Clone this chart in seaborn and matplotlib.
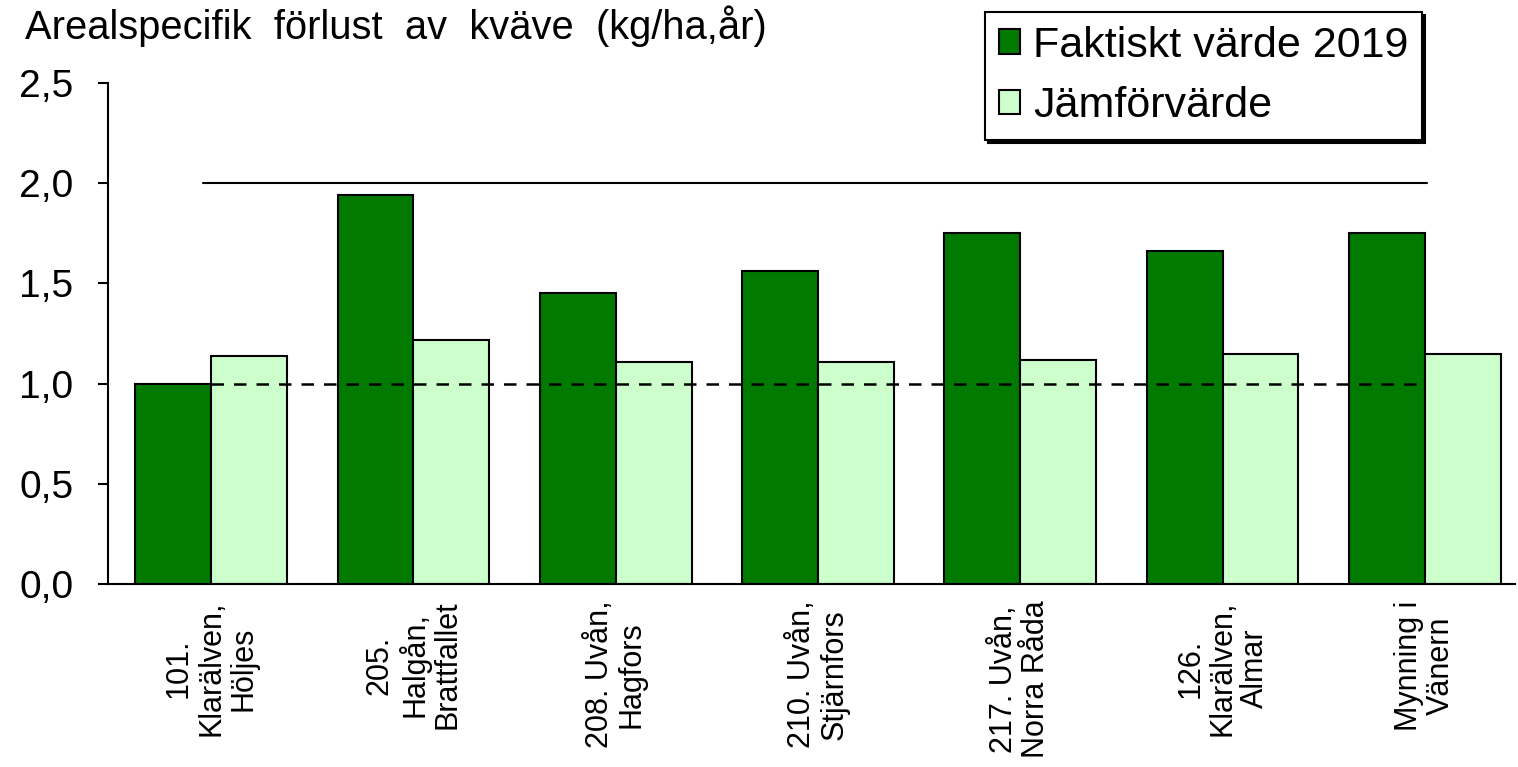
import pandas as pd
import numpy as np
import matplotlib
matplotlib.use("Agg")
import matplotlib.pyplot as plt
from matplotlib.ticker import FuncFormatter, MultipleLocator
import seaborn as sns

stations = ["101.\nKlarälven,\nHöljes", "205.\nHalgån,\nBrattfallet", "208. Uvån,\nHagfors",
            "210. Uvån,\nStjärnfors", "217. Uvån,\nNorra Råda", "126.\nKlarälven,\nAlmar",
            "Mynning i\nVänern"]
faktiskt = [1.00, 1.94, 1.45, 1.56, 1.75, 1.66, 1.75]
jamfor = [1.14, 1.22, 1.11, 1.11, 1.12, 1.15, 1.15]
series = ["Faktiskt värde 2019", "Jämförvärde"]
ref_levels = [2.0, 1.0]

df = pd.DataFrame({
    "station": stations * 2,
    "serie": [series[0]] * len(stations) + [series[1]] * len(stations),
    "value": faktiskt + jamfor,
})

sns.set_style("ticks")
plt.rcParams['font.family'] = ['Liberation Sans', 'DejaVu Sans']
plt.rcParams['text.color'] = 'black'

fig = plt.figure(figsize=(15.18, 7.67), dpi=100)
ax = fig.add_axes([0.0711, 0.2386, 0.9269, 0.6532])

sns.barplot(data=df, x="station", y="value", hue="serie", palette=["#007a00", "#ccffcc"],
            saturation=1, edgecolor="black", linewidth=1.5, width=0.75, ax=ax, zorder=2)

first, last = 0, len(stations) - 1
ax.plot([first - 0.04, last + 0.01], [ref_levels[0]] * 2, color="black", lw=1.5, zorder=3)
ax.plot([first, last], [ref_levels[1]] * 2, color="black", lw=1.8, ls=(0, (5, 4)), zorder=3)

ax.set_xlim(-0.51, 6.445)
ax.set_ylim(0, 2.5)
ax.yaxis.set_major_locator(MultipleLocator(0.5))
ax.yaxis.set_major_formatter(FuncFormatter(lambda v, p: f"{v:.1f}".replace(".", ",")))
ax.set_xlabel("")
ax.set_ylabel("")
sns.despine(ax=ax)
for s in ["left", "bottom"]:
    ax.spines[s].set_linewidth(1.5)
    ax.spines[s].set_color("black")
ax.tick_params(axis="y", length=7, width=1.5, pad=18, labelsize=28, colors="black")
ax.tick_params(axis="x", length=0, pad=12, labelsize=22, colors="black")
for lab in ax.get_xticklabels():
    lab.set_rotation(90)
    lab.set_va("top")
    lab.set_ha("center")
    lab.set_linespacing(1.1)

ax.get_legend().remove()
handles, labels = ax.get_legend_handles_labels()
leg = fig.legend(handles, labels, loc="upper left", bbox_to_anchor=(985 / 1518, 1 - 12 / 767),
                 fontsize=31, frameon=True, fancybox=False, shadow={"color": "black", "alpha": 1},
                 edgecolor="black", framealpha=1, handlelength=0.5, handleheight=0.5,
                 handletextpad=0.3, labelspacing=0.48, borderpad=0.32, borderaxespad=0)
leg.get_frame().set_linewidth(1.5)
for t in leg.get_texts():
    t.set_color("black")

fig.text(25 / 1518, 1 - 5 / 767, "Arealspecifik  förlust  av  kväve  (kg/ha,år)",
         fontsize=28.7, va="top", ha="left", color="black")

fig.savefig("out.png", dpi=100)
